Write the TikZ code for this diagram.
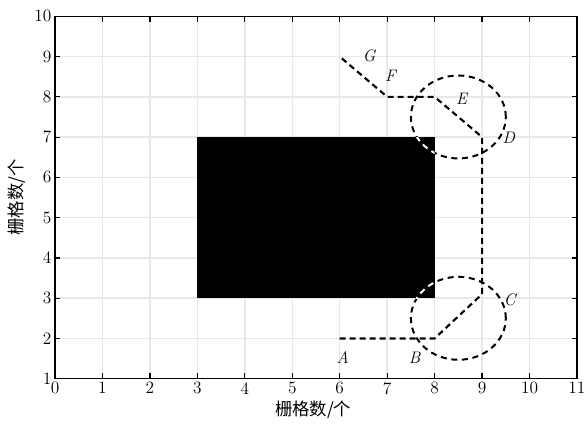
\documentclass[tikz,border=0pt]{standalone}
\usepackage{fontspec}
\newfontfamily\cjk{Noto Sans CJK SC}
\usepackage{xcolor}
\usetikzlibrary{positioning,calc}

\tikzset{
    route/.style={dash pattern=on 4.5pt off 3pt, line width=1.6pt},
    zone/.style={dash pattern=on 4.5pt off 3.5pt, line width=1.5pt},
    ptlabel/.style={font=\fontsize{12.5}{14}\selectfont\itshape, inner sep=1pt},
    ticklabel/.style={font=\fontsize{13}{15}\selectfont, inner sep=2.5pt}
}

\begin{document}
\begin{tikzpicture}[x=35.59pt, y=30.2pt]
    \useasboundingbox (-1.159,-0.141) rectangle (11.19,10.405);

    % Grid
    \foreach \x in {1,...,10} { \draw[gray!18, line width=1.1pt] (\x,1) -- (\x,10); }
    \foreach \y in {2,...,9} { \draw[gray!18, line width=1.1pt] (0,\y) -- (11,\y); }

    % Obstacle
    \fill[black] (3,3) rectangle (8,7);

    % Axes box
    \draw[line width=0.9pt] (0,1) rectangle (11,10);
    \foreach \x in {1,...,10} {
        \draw[line width=0.9pt] (\x,1) -- ++(0,0.13);
        \draw[line width=0.9pt] (\x,10) -- ++(0,-0.13);
    }
    \foreach \y in {2,...,9} {
        \draw[line width=0.9pt] (0,\y) -- ++(0.11,0);
        \draw[line width=0.9pt] (11,\y) -- ++(-0.11,0);
    }

    % Tick labels
    \foreach \x in {0,...,11} { \node[ticklabel, below] (xt\x) at (\x,1) {\x}; }
    \foreach \y in {1,...,10} { \node[ticklabel, left] (yt\y) at (0,\y) {\y}; }

    % Axis titles
    \node[font=\cjk\fontsize{13}{15}\selectfont] (xtitle) at (5.44,0.24) {栅格数/个};
    \node[font=\cjk\fontsize{13}{15}\selectfont, rotate=90] (ytitle) at (-0.8,5.5) {栅格数/个};

    % Waypoints
    \coordinate (pA) at (6,2);
    \coordinate (pB) at (8,2);
    \coordinate (pC) at (9,3.1);
    \coordinate (pD) at (9,7);
    \coordinate (pE) at (8,8);
    \coordinate (pF) at (7,8);
    \coordinate (pG) at (6,9);

    % Turning zones
    \coordinate (zlow) at (8.5,2.5);
    \coordinate (zhigh) at (8.5,7.5);
    \draw[zone] (zlow) circle [x radius=1, y radius=1.03];
    \draw[zone] (zhigh) circle [x radius=1, y radius=1.03];
    \begin{scope}
        \clip (3,3) rectangle (8,7);
        \draw[zone, white] (zlow) circle [x radius=1, y radius=1.03];
        \draw[zone, white] (zhigh) circle [x radius=1, y radius=1.03];
    \end{scope}

    % Path
    \draw[route] (pA) -- (pB) -- (pC) -- (pD) -- (pE) -- (pF) -- (pG);

    % Point labels
    \node[ptlabel] (lA) at (6.06,1.52) {A};
    \node[ptlabel] (lB) at (7.58,1.52) {B};
    \node[ptlabel] (lC) at (9.58,2.97) {C};
    \node[ptlabel] (lD) at (9.56,6.98) {D};
    \node[ptlabel] (lE) at (8.57,7.95) {E};
    \node[ptlabel] (lF) at (7.07,8.52) {F};
    \node[ptlabel] (lG) at (6.62,9.02) {G};

\end{tikzpicture}
\end{document}
